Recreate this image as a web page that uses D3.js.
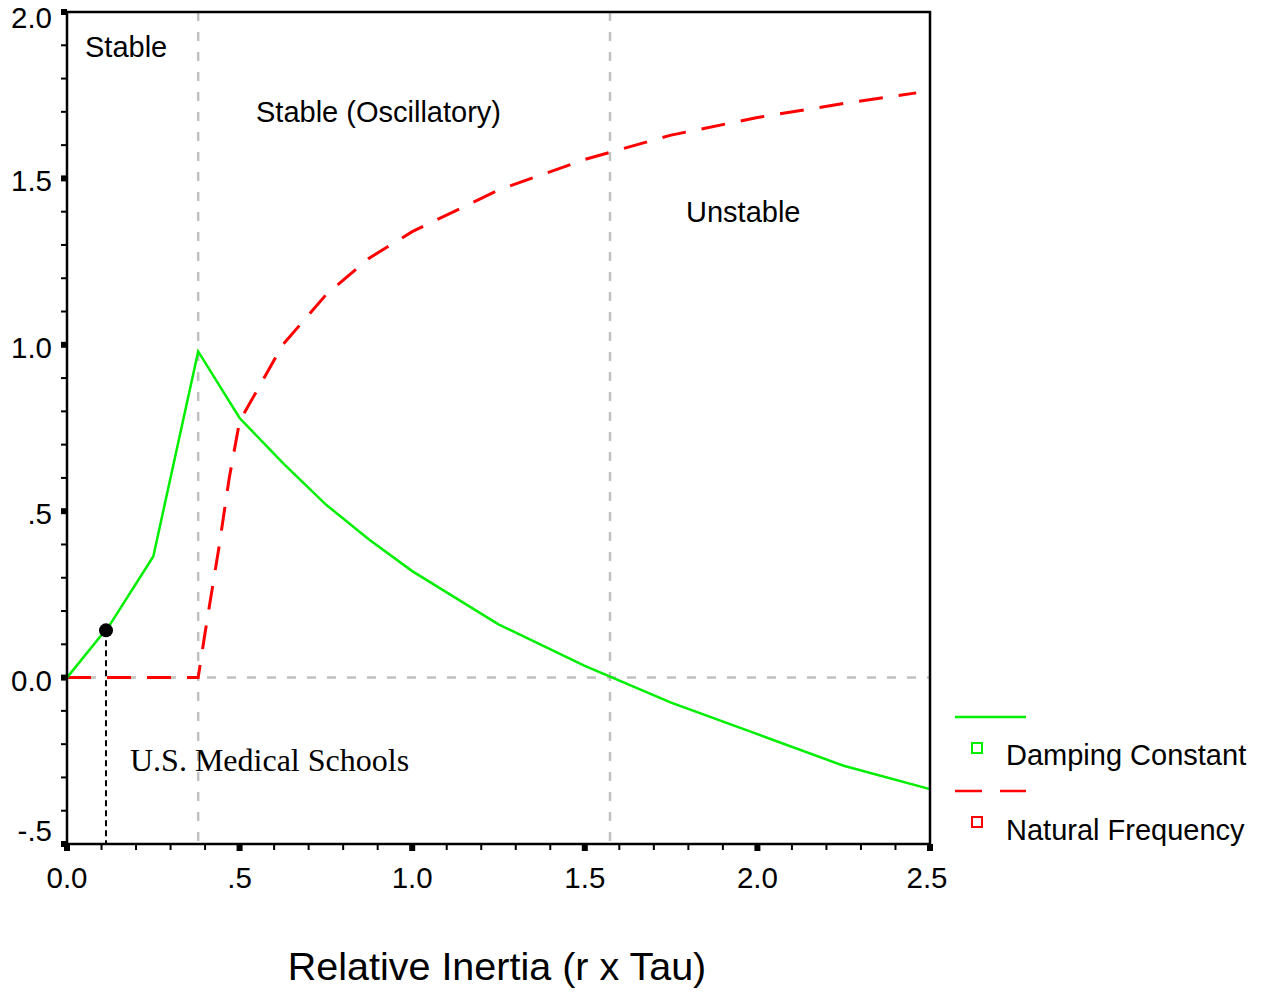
<!DOCTYPE html>
<html><head><meta charset="utf-8">
<script src="https://cdn.jsdelivr.net/npm/d3@7"></script>
<style>body{margin:0;background:#fff}svg{display:block}</style>
</head><body>
<script>
// ---- data ----
const dampX = [0, 0.125, 0.25, 0.38, 0.5, 0.625, 0.75, 0.875, 1.0, 1.25, 1.5, 1.75, 2.0, 2.25, 2.5];
const dampY = [0, 0.16, 0.364, 0.98, 0.78, 0.645, 0.52, 0.415, 0.32, 0.16, 0.035, -0.075, -0.17, -0.265, -0.335];
const freqX = [0, 0.125, 0.25, 0.38, 0.4, 0.44, 0.47, 0.5, 0.625, 0.75, 0.875, 1.0, 1.25, 1.5, 1.75, 2.0, 2.25, 2.46];
const freqY = [0, 0, 0, 0, 0.135, 0.39, 0.6, 0.77, 1.0, 1.15, 1.26, 1.34, 1.465, 1.557, 1.63, 1.683, 1.725, 1.757];
const regionBounds = [0.38, 1.573];
const schoolPoint = [0.113, 0.142];
const xTicks = [0, 0.5, 1.0, 1.5, 2.0, 2.5];
const xTickLabels = ["0.0", ".5", "1.0", "1.5", "2.0", "2.5"];
const yTicks = [2.0, 1.5, 1.0, 0.5, 0, -0.5];
const yTickLabels = ["2.0", "1.5", "1.0", ".5", "0.0", "-.5"];
const seriesNames = ["Damping Constant", "Natural Frequency"];
const regionLabels = ["Stable", "Stable (Oscillatory)", "Unstable"];
const pointLabel = "U.S. Medical Schools";
const xTitle = "Relative Inertia (r x Tau)";

const W = 1270, H = 994;
const L = 67, R = 930, T = 12, B = 844;
const svg = d3.select("body").append("svg").attr("width", W).attr("height", H);
const x = d3.scaleLinear().domain([0, 2.5]).range([L, R]);
const y = d3.scaleLinear().domain([-0.5, 2.0]).range([B, T]);
const sans = "'Liberation Sans', Arial, sans-serif";

// reference lines (gray dashed)
svg.append("line").attr("x1", L).attr("x2", R).attr("y1", y(0)).attr("y2", y(0))
  .attr("stroke", "#c0c0c0").attr("stroke-width", 2.5).attr("stroke-dasharray", "9,11");
regionBounds.forEach(v => {
  svg.append("line").attr("x1", x(v)).attr("x2", x(v)).attr("y1", T).attr("y2", B)
    .attr("stroke", "#c0c0c0").attr("stroke-width", 2.5).attr("stroke-dasharray", "9,11");
});

// series
const line = d3.line().x(d => x(d[0])).y(d => y(d[1]));
svg.append("path").datum(freqX.map((v, i) => [v, freqY[i]])).attr("d", line)
  .attr("fill", "none").attr("stroke", "#ff0000").attr("stroke-width", 3).attr("stroke-dasharray", "24,16");
svg.append("path").datum(dampX.map((v, i) => [v, dampY[i]])).attr("d", line)
  .attr("fill", "none").attr("stroke", "#00ee00").attr("stroke-width", 2.5);

// school point
svg.append("line").attr("x1", x(schoolPoint[0])).attr("x2", x(schoolPoint[0]))
  .attr("y1", y(schoolPoint[1])).attr("y2", B)
  .attr("stroke", "#000").attr("stroke-width", 2).attr("stroke-dasharray", "6,4");
svg.append("circle").attr("cx", x(schoolPoint[0])).attr("cy", y(schoolPoint[1])).attr("r", 7).attr("fill", "#000");

// frame
svg.append("rect").attr("x", L).attr("y", T).attr("width", R - L).attr("height", B - T)
  .attr("fill", "none").attr("stroke", "#000").attr("stroke-width", 2.5);

// y ticks
const yMinor = d3.range(-5, 21).map(i => i / 10);
svg.selectAll(".ymin").data(yMinor).enter().append("line")
  .attr("x1", L - 6).attr("x2", L).attr("y1", d => y(d)).attr("y2", d => y(d))
  .attr("stroke", "#000").attr("stroke-width", 2);
svg.selectAll(".ymaj").data(yTicks).enter().append("rect")
  .attr("x", L - 6).attr("y", d => y(d) - 3).attr("width", 6).attr("height", 6).attr("fill", "#000");
svg.selectAll(".ylab").data(yTicks).enter().append("text")
  .attr("x", 52).attr("y", (d, i) => i === 0 ? 28 : y(d) + (i === yTicks.length - 1 ? -3 : 13))
  .attr("text-anchor", "end").attr("font-family", sans).attr("font-size", 29.5)
  .text((d, i) => yTickLabels[i]);

// x ticks
const xMinor = d3.range(0, 26).map(i => i / 10);
svg.selectAll(".xmin").data(xMinor).enter().append("line")
  .attr("x1", d => x(d)).attr("x2", d => x(d)).attr("y1", B).attr("y2", B + 6)
  .attr("stroke", "#000").attr("stroke-width", 2);
svg.selectAll(".xmaj").data(xTicks).enter().append("rect")
  .attr("x", d => x(d) - 3).attr("y", B).attr("width", 6).attr("height", 7).attr("fill", "#000");
svg.selectAll(".xlab").data(xTicks).enter().append("text")
  .attr("x", (d, i) => x(d) - (i === xTicks.length - 1 ? 3 : 0)).attr("y", 888)
  .attr("text-anchor", "middle").attr("font-family", sans).attr("font-size", 29.5)
  .text((d, i) => xTickLabels[i]);

// axis title
svg.append("text").attr("x", 497).attr("y", 980).attr("text-anchor", "middle")
  .attr("font-family", sans).attr("font-size", 39.5).text(xTitle);

// region labels
const regionPos = [[85, 57], [256, 122], [686, 222]];
regionLabels.forEach((t, i) => {
  svg.append("text").attr("x", regionPos[i][0]).attr("y", regionPos[i][1])
    .attr("font-family", sans).attr("font-size", 29).text(t);
});
svg.append("text").attr("x", 130).attr("y", 771)
  .attr("font-family", "'Liberation Serif', 'Times New Roman', serif").attr("font-size", 32).text(pointLabel);

// legend
const legend = [
  {color: "#00ee00", dash: null, ly: 717, sy: 748, ty: 765},
  {color: "#ff0000", dash: "27,18", ly: 791, sy: 822, ty: 840}
];
legend.forEach((d, i) => {
  svg.append("line").attr("x1", 955).attr("x2", 1026).attr("y1", d.ly).attr("y2", d.ly)
    .attr("stroke", d.color).attr("stroke-width", 2.5).attr("stroke-dasharray", d.dash);
  svg.append("rect").attr("x", 972).attr("y", d.sy - 5).attr("width", 10).attr("height", 10)
    .attr("fill", "none").attr("stroke", d.color).attr("stroke-width", 2);
  svg.append("text").attr("x", 1006).attr("y", d.ty).attr("font-family", sans).attr("font-size", 29)
    .text(seriesNames[i]);
});
</script>
</body></html>
